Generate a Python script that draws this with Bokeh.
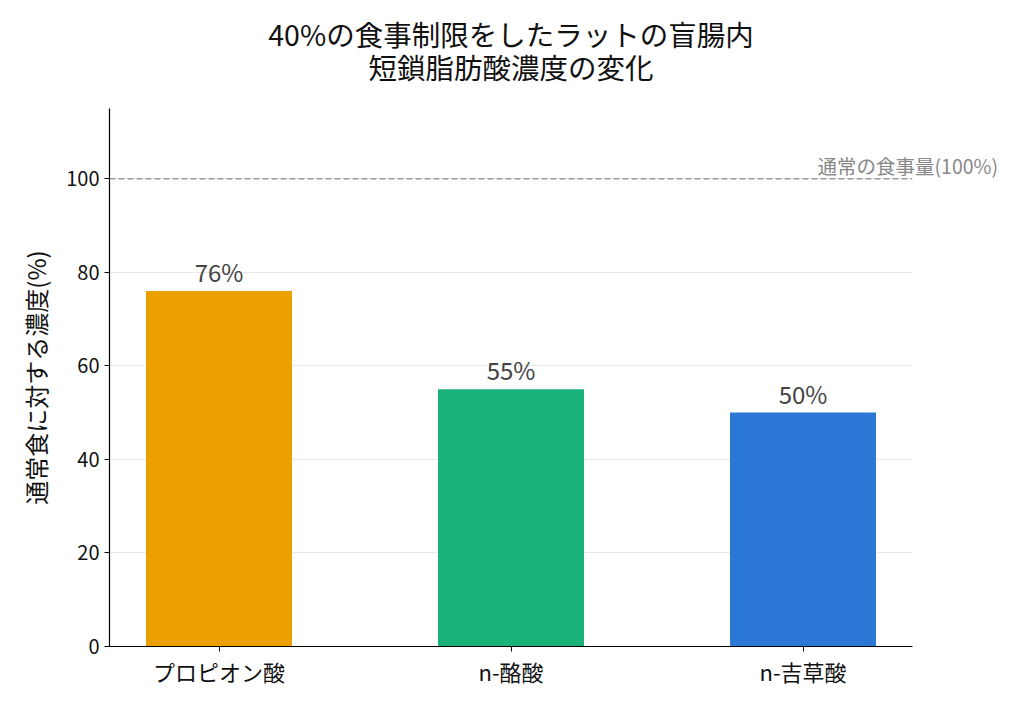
from bokeh.plotting import figure
from bokeh.models import ColumnDataSource, Span, Range1d, FixedTicker, LinearAxis
from bokeh.embed import file_html
from bokeh.resources import INLINE
from bokeh.core.properties import value

categories = ["プロピオン酸", "n-酪酸", "n-吉草酸"]
values = [76, 55, 50]
colors = ["#EBA000", "#1BB17A", "#2A77D6"]
labels = ["76%", "55%", "50%"]
y_ticks = [0, 20, 40, 60, 80, 100]
reference_value = 100
reference_label = "通常の食事量(100%)"
title_lines = ["40%の食事制限をしたラットの盲腸内", "短鎖脂肪酸濃度の変化"]
y_label = "通常食に対する濃度(%)"

FONT = "Noto Sans CJK JP"
xs = list(range(len(categories)))
x_center = (xs[0] + xs[-1]) / 2

src = ColumnDataSource(dict(x=xs, top=values, color=colors, label=labels))

p = figure(width=1008, height=693, output_backend="svg", toolbar_location=None,
           x_range=Range1d(-0.375, 2.375), y_range=Range1d(0, 115),
           min_border_left=109, min_border_right=96, min_border_top=108, min_border_bottom=47)
p.outline_line_color = None
p.background_fill_color = "white"
p.border_fill_color = "white"
x_axis = p.below[0]
y_axis = p.left[0]

p.vbar(x="x", top="top", width=0.5, color="color", source=src, line_color=None)
p.text(x="x", y="top", text="label", source=src, text_align="center", text_baseline="bottom",
       text_font=value(FONT), text_font_size="24px", text_color="#444444", y_offset=-2)

p.add_layout(Span(location=reference_value, dimension="width", line_color="#9a9a9a",
                  line_dash="6 3", line_width=1.5))

# label for the reference line, drawn as a tick label of an extra right axis (not clipped)
p.extra_y_ranges = {"lbl": Range1d(0, 115)}
lbl_axis = LinearAxis(y_range_name="lbl", ticker=FixedTicker(ticks=[102.8]),
                      major_label_overrides={102.8: reference_label})
lbl_axis.axis_line_color = None
lbl_axis.major_tick_line_color = None
lbl_axis.minor_tick_line_color = None
lbl_axis.major_tick_out = 0
lbl_axis.major_tick_in = 0
lbl_axis.major_label_standoff = -95
lbl_axis.major_label_text_font = FONT
lbl_axis.major_label_text_font_size = "19.5px"
lbl_axis.major_label_text_color = "#888888"
p.add_layout(lbl_axis, "right")

# two-line centred title, drawn as the label texts of a bare top axis
title_axis = LinearAxis(ticker=FixedTicker(ticks=[x_center]),
                        major_label_overrides={x_center: title_lines[1]},
                        axis_label=title_lines[0])
title_axis.axis_line_color = None
title_axis.major_tick_line_color = None
title_axis.minor_tick_line_color = None
title_axis.major_tick_out = 0
title_axis.major_tick_in = 0
title_axis.major_label_standoff = 22
title_axis.axis_label_standoff = -11
for attr in ("major_label_text", "axis_label_text"):
    setattr(title_axis, attr + "_font", FONT)
    setattr(title_axis, attr + "_font_size", "28.5px")
    setattr(title_axis, attr + "_color", "#111111")
title_axis.axis_label_text_font_style = "normal"
p.add_layout(title_axis, "above")

p.xgrid.grid_line_color = None
p.ygrid.grid_line_color = "#e8e8e8"
p.ygrid.ticker = FixedTicker(ticks=y_ticks)

x_axis.ticker = FixedTicker(ticks=xs)
x_axis.major_label_overrides = {i: c for i, c in enumerate(categories)}
y_axis.ticker = FixedTicker(ticks=y_ticks)
y_axis.axis_label = y_label
for ax in (x_axis, y_axis):
    ax.axis_line_color = "black"
    ax.axis_line_width = 1.2
    ax.major_tick_line_color = "black"
    ax.major_tick_in = 0
    ax.major_tick_out = 5
    ax.minor_tick_line_color = None
    ax.major_label_text_font = FONT
    ax.major_label_text_color = "#111111"
x_axis.major_label_text_font_size = "22px"
x_axis.major_label_standoff = 3
y_axis.major_label_text_font_size = "20px"
y_axis.axis_label_text_font = FONT
y_axis.axis_label_text_font_size = "24px"
y_axis.axis_label_text_font_style = "normal"
y_axis.axis_label_text_color = "#111111"
y_axis.axis_label_standoff = 10

open("out.html", "w").write(file_html(p, INLINE))
